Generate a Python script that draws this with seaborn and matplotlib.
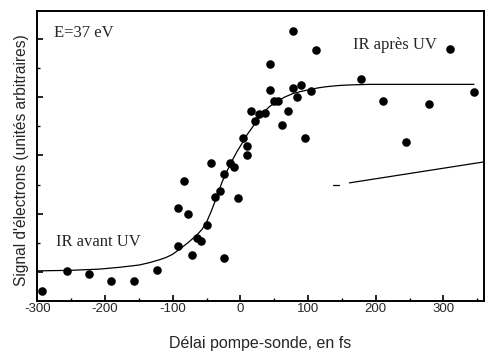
import numpy as np
import pandas as pd
import seaborn as sns
import matplotlib.pyplot as plt
from matplotlib.ticker import MultipleLocator, NullFormatter

# measured points (delay in fs, signal in arbitrary units)
delay_fs = [-293, -256, -224, -191, -158, -124, -92, -92, -84, -77, -71, -64,
            -58, -50, -24, -43, -37, -30, -24, -16, -9, -3, 4, 10, 10, 16,
            22, 28, 36, 43, 43, 49, 56, 62, 70, 77, 77, 83, 90, 96, 104,
            111, 178, 210, 244, 278, 310, 345]
signal = [-0.33, 0.02, -0.03, -0.15, -0.15, 0.03, 0.45, 1.10, 1.56, 1.00,
          0.29, 0.58, 0.53, 0.81, 0.24, 1.87, 1.29, 1.39, 1.68, 1.87, 1.80,
          1.27, 2.30, 2.16, 2.01, 2.76, 2.59, 2.71, 2.73, 3.57, 3.12, 2.94,
          2.94, 2.52, 2.76, 4.14, 3.16, 3.00, 3.21, 2.30, 3.11, 3.81, 3.31,
          2.94, 2.23, 2.88, 3.83, 3.09]

# fitted curve
fit_x = [-300, -250, -209, -180, -150, -135, -120, -110, -101, -90, -78,
         -65, -57, -50, -44, -38, -33, -27, -20, -12, -5, 3, 10, 18, 25,
         33, 43, 53, 65, 77, 90, 102, 115, 127, 145, 161, 191, 345]
fit_y = [0.02, 0.03, 0.05, 0.08, 0.12, 0.16, 0.21, 0.25, 0.30, 0.39, 0.50,
         0.63, 0.73, 0.86, 1.02, 1.20, 1.36, 1.55, 1.73, 1.92, 2.07, 2.22,
         2.36, 2.49, 2.62, 2.73, 2.84, 2.92, 3.00, 3.06, 3.10, 3.13, 3.16,
         3.18, 3.20, 3.21, 3.22, 3.22]

# stray line at lower right
stray_x = [161, 360]
stray_y = [1.53, 1.89]
dash_x = [136, 145]
dash_y = [1.49, 1.49]

sns.set_style("ticks")
plt.rcParams["font.family"] = ["Liberation Sans", "DejaVu Sans"]
plt.rcParams["axes.unicode_minus"] = False

fig = plt.figure(figsize=(4.87, 3.52), dpi=100)
ax = fig.add_axes([0.077, 0.146, 0.917, 0.823])

fit = pd.DataFrame({"x": fit_x, "y": fit_y})
sns.lineplot(data=fit, x="x", y="y", sort=False, estimator=None,
             color="black", lw=0.9, ax=ax)
ax.plot(stray_x, stray_y, color="black", lw=0.9)
ax.plot(dash_x, dash_y, color="black", lw=0.9)

pts = pd.DataFrame({"delay": delay_fs, "signal": signal})
sns.scatterplot(data=pts, x="delay", y="signal", color="black", s=38,
                edgecolor="black", linewidth=0, ax=ax, zorder=3)

ax.set_xlim(-300, 360)
ax.set_ylim(-0.49, 4.48)
ax.xaxis.set_major_locator(MultipleLocator(100))
ax.xaxis.set_minor_locator(MultipleLocator(50))
ax.yaxis.set_major_locator(MultipleLocator(1))
ax.yaxis.set_minor_locator(MultipleLocator(0.5))
ax.yaxis.set_major_formatter(NullFormatter())
ax.tick_params(axis="both", which="major", direction="in", length=4,
               width=1.2, labelsize=9.5, pad=2, color="black")
ax.tick_params(axis="both", which="minor", direction="in", length=2.5,
               width=1.0, color="black")
for sp in ax.spines.values():
    sp.set_linewidth(1.4)
    sp.set_color("black")

ax.set_xlabel("Délai pompe-sonde, en fs", fontsize=11.5)
ax.set_ylabel("Signal d'électrons (unités arbitraires)", fontsize=11.2)
ax.xaxis.set_label_coords(0.4995, -0.147)
ax.yaxis.set_label_coords(-0.035, 0.484)
ax.xaxis.label.set_va("center")
ax.yaxis.label.set_va("center")

serif = ["Liberation Serif", "DejaVu Serif"]
ax.text(-276, 4.10, "E=37 eV", family=serif, fontsize=12, va="center")
ax.text(166, 3.90, "IR après UV", family=serif, fontsize=12, va="center")
ax.text(-273, 0.52, "IR avant UV", family=serif, fontsize=12, va="center")

fig.savefig("out.png", dpi=100)
